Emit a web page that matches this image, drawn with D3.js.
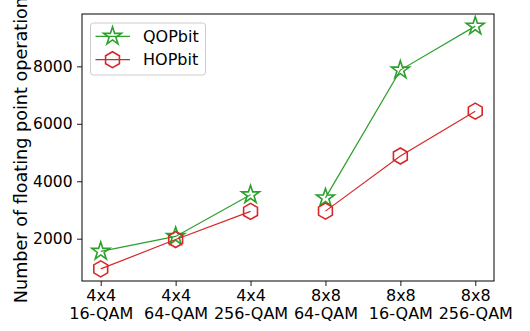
<!DOCTYPE html>
<html>
<head>
<meta charset="utf-8">
<script src="https://cdn.jsdelivr.net/npm/d3@7"></script>
<style>
  body { margin: 0; background: #fff; }
  svg text { font-family: 'DejaVu Sans', sans-serif; }
</style>
</head>
<body>
<svg width="530" height="331"></svg>
<script>
// chart data
const antennas = ['4x4', '4x4', '4x4', '8x8', '8x8', '8x8'];
const modulations = ['16-QAM', '64-QAM', '256-QAM', '64-QAM', '16-QAM', '256-QAM'];
const qopbit = [1560, 2080, 3530, 3420, 7870, 9400];
const hopbit = [950, 1970, 2950, 2960, 4880, 6440];
const yTicks = [2000, 4000, 6000, 8000];
// segments of the lines (no link between the 4x4 and 8x8 groups)
const segments = [[0, 1, 2], [3, 4, 5]];

const svg = d3.select('svg');
const margin = { top: 14, right: 36, bottom: 50, left: 82 };
const width = 530 - margin.left - margin.right;
const height = 331 - margin.top - margin.bottom;

const g = svg.append('g')
  .attr('transform', 'translate(' + margin.left + ',' + margin.top + ')');

const x = d3.scaleLinear().domain([-0.25, 5.25]).range([0, width]);
const allVals = qopbit.concat(hopbit);
const lo = d3.min(allVals), hi = d3.max(allVals), pad = (hi - lo) * 0.05;
const y = d3.scaleLinear().domain([lo - pad, hi + pad]).range([height, 0]);

// axes
const xAxis = g.append('g')
  .attr('transform', 'translate(0,' + height + ')')
  .call(d3.axisBottom(x).tickValues(d3.range(antennas.length)).tickSize(5).tickFormat(''));
xAxis.selectAll('.tick').append('text')
  .attr('fill', '#000')
  .attr('font-size', 16)
  .attr('text-anchor', 'middle')
  .each(function (d) {
    const t = d3.select(this);
    t.append('tspan').attr('x', 0).attr('y', 20).text(antennas[d]);
    t.append('tspan').attr('x', 0).attr('y', 38.3).text(modulations[d]);
  });

const yAxis = g.append('g')
  .call(d3.axisLeft(y).tickValues(yTicks).tickSize(5).tickPadding(4.5).tickFormat(d3.format('d')));
yAxis.selectAll('text').attr('font-size', 15.5).attr('fill', '#000');

svg.selectAll('.domain').remove();
svg.selectAll('.tick line').attr('stroke', '#000').attr('stroke-width', 0.9);

g.append('rect')
  .attr('width', width).attr('height', height)
  .attr('fill', 'none').attr('stroke', '#000').attr('stroke-width', 1);

// y label (clipped at the top, as in the original figure)
svg.append('text')
  .attr('transform', 'translate(27,' + (margin.top + height / 2 - 2) + ') rotate(-90)')
  .attr('text-anchor', 'middle')
  .attr('font-size', 17.6)
  .text('Number of floating point operations');

// markers
const star = d3.symbol().type(d3.symbolStar).size(100);
function hexPath(r) {
  const pts = d3.range(6).map(i => {
    const a = Math.PI / 3 * i - Math.PI / 2;
    return [r * Math.cos(a), r * Math.sin(a)];
  });
  return 'M' + pts.join('L') + 'Z';
}

const series = [
  { name: 'QOPbit', values: qopbit, color: '#2ca02c', marker: star() },
  { name: 'HOPbit', values: hopbit, color: '#d62728', marker: hexPath(8) }
];

series.forEach(s => {
  const lineGen = d3.line().x(i => x(i)).y(i => y(s.values[i]));
  segments.forEach(seg => {
    g.append('path')
      .attr('d', lineGen(seg))
      .attr('fill', 'none')
      .attr('stroke', s.color)
      .attr('stroke-width', 1.2);
  });
  g.selectAll(null)
    .data(s.values)
    .enter()
    .append('path')
    .attr('d', s.marker)
    .attr('transform', (d, i) => 'translate(' + x(i) + ',' + y(d) + ')')
    .attr('fill', 'none')
    .attr('stroke', s.color)
    .attr('stroke-width', 1.6);
});

// legend
const legend = svg.append('g').attr('transform', 'translate(90.5,23)');
legend.append('rect')
  .attr('width', 115).attr('height', 52).attr('rx', 3)
  .attr('fill', '#fff').attr('fill-opacity', 0.8)
  .attr('stroke', '#ccc').attr('stroke-width', 1);
series.forEach((s, i) => {
  const row = legend.append('g').attr('transform', 'translate(0,' + (13.3 + i * 23.4) + ')');
  row.append('line').attr('x1', 5).attr('x2', 39.5)
    .attr('stroke', s.color).attr('stroke-width', 1.2);
  row.append('path').attr('d', s.marker).attr('transform', 'translate(22,0)')
    .attr('fill', 'none').attr('stroke', s.color).attr('stroke-width', 1.6);
  row.append('text').attr('x', 52.5).attr('dy', '0.36em')
    .attr('font-size', 16).text(s.name);
});
</script>
</body>
</html>
